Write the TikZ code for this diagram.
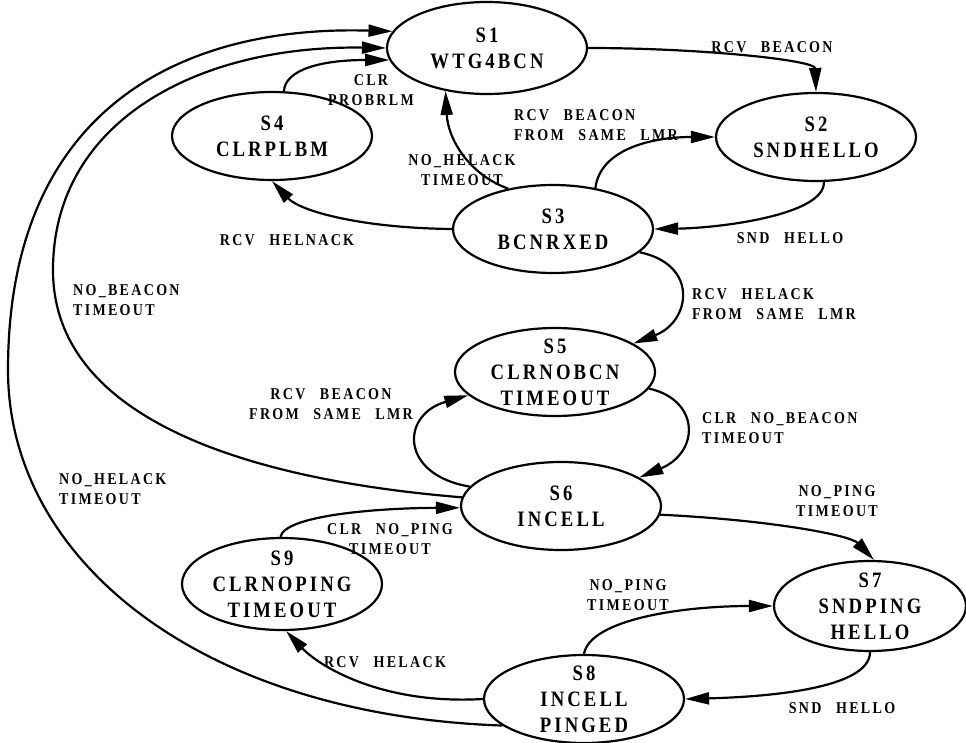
\documentclass[tikz,border=0pt]{standalone}
\usepackage{fontspec}
\setmainfont{Liberation Serif}[FakeStretch=0.85,LetterSpace=14,WordSpace=2.5]
\usetikzlibrary{arrows.meta,shapes.geometric}

\begin{document}
\begin{tikzpicture}[x = 1pt, y = -1pt, line width = 2.2pt,
        state/.style = {draw, ellipse, minimum width = 200pt, minimum height = 88pt, inner sep = -4pt, align = center, font = \fontsize{22}{26}\selectfont\bfseries},
        lbl/.style = {inner sep = 0pt, font = \fontsize{16.5}{19.5}\selectfont\bfseries},
        trans/.style = {-{Triangle[length = 24pt, width = 12pt]}}]
        \useasboundingbox (0, 0) rectangle (966, 743);
        % states
        \node [state, minimum height = 92pt] (s1) at (487, 48) {S1\\WTG4BCN};
        \node [state] (s2) at (816, 137) {S2\\SNDHELLO};
        \node [state] (s3) at (553, 229) {S3\\BCNRXED};
        \node [state] (s4) at (272, 136) {S4\\CLRPLBM};
        \node [state] (s5) at (555, 372) {S5\\CLRNOBCN\\TIMEOUT};
        \node [state] (s6) at (561, 506) {S6\\INCELL};
        \node [state, minimum width = 192pt, minimum height = 90pt] (s7) at (870, 606) {S7\\SNDPING\\HELLO};
        \node [state] (s8) at (584, 699) {S8\\INCELL\\PINGED};
        \node [state, minimum height = 92pt] (s9) at (282, 584) {S9\\CLRNOPING\\TIMEOUT};

        % transitions
        \draw [trans] (s1.east) .. controls (700, 48) and (815, 60) .. (s2.north);
        \draw [trans] (s2.280) .. controls (825, 215) and (720, 228) .. (s3.east);
        \draw [trans] (s3.44) .. controls (600, 150) and (650, 137) .. (s2.west);
        \draw [trans] (s3.138) .. controls (470, 175) and (448, 140) .. (s1.226);
        \draw [trans] (s3.west) .. controls (360, 228) and (300, 211) .. (s4.south);
        \draw [trans] (s4.75) .. controls (285, 70) and (320, 60) .. (s1.187);
        \draw [trans] (s3.345) .. controls (700, 265) and (690, 322) .. (s5.20);
        \draw [trans] (s5.350) .. controls (700, 400) and (700, 452) .. (s6.20);
        \draw [trans] (s6.168) .. controls (400, 475) and (400, 415) .. (s5.195);
        \draw [trans] (s6.175) .. controls (250, 480) and (53, 420) .. (53, 270) .. controls (53, 120) and (200, 45) .. (s1.west);
        \draw [trans] (s6.355) .. controls (770, 520) and (850, 535) .. (s7.85);
        \draw [trans] (s9.92) .. controls (285, 515) and (380, 508) .. (s6.181);
        \draw [trans] (s8.north) .. controls (590, 620) and (680, 606) .. (s7.west);
        \draw [trans] (s7.south) .. controls (870, 690) and (760, 697) .. (s8.east);
        \draw [trans] (s8.west) .. controls (380, 705) and (318, 665) .. (s9.275);
        \draw [trans] (s8.198) .. controls (200, 715) and (8, 560) .. (8, 370) .. controls (8, 110) and (180, 25) .. (s1.170);

        % labels
        \node [lbl] (l12) at (772, 47) {RCV BEACON};
        \node [lbl] (l23) at (790, 238) {SND HELLO};
        \node [lbl, anchor = west, align = left] (l32) at (513, 125) {RCV BEACON\\FROM SAME LMR};
        \node [lbl, align = center] (l31) at (462, 170) {NO\_HELACK\\TIMEOUT};
        \node [lbl] (l34) at (287, 240) {RCV HELNACK};
        \node [lbl, align = center] (l41) at (371, 90) {CLR\\PROBRLM};
        \node [lbl, anchor = west, align = left] (l35) at (691, 304) {RCV HELACK\\FROM SAME LMR};
        \node [lbl, anchor = west, align = left] (l56) at (701, 428) {CLR NO\_BEACON\\TIMEOUT};
        \node [lbl, align = center] (l65) at (331, 404) {RCV BEACON\\FROM SAME LMR};
        \node [lbl, anchor = west, align = left] (l61) at (72, 300) {NO\_BEACON\\TIMEOUT};
        \node [lbl, align = center] (l67) at (837, 501) {NO\_PING\\TIMEOUT};
        \node [lbl, align = center] (l96) at (390, 539) {CLR NO\_PING\\TIMEOUT};
        \node [lbl, align = center] (l87) at (628, 595) {NO\_PING\\TIMEOUT};
        \node [lbl] (l78) at (842, 708) {SND HELLO};
        \node [lbl] (l89) at (385, 662) {RCV HELACK};
        \node [lbl, anchor = west, align = left] (l81) at (58, 489) {NO\_HELACK\\TIMEOUT};
    \end{tikzpicture}
\end{document}
